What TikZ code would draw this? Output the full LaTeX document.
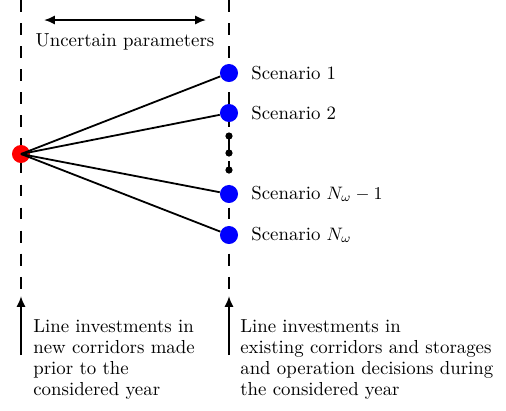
\documentclass[tikz,border=0pt]{standalone}
\usetikzlibrary{arrows.meta}
\begin{document}
\begin{tikzpicture}[x=0.555pt,y=-0.555pt,
  every node/.style={font=\fontsize{10.45}{11.7}\selectfont},
  vline/.style={line width=1pt,dash pattern=on 6.6pt off 6.2pt},
  conn/.style={line width=1pt},
  blue dot/.style={circle,fill=blue,inner sep=0pt,minimum size=10pt},
  red dot/.style={circle,fill=red,inner sep=0pt,minimum size=10pt},
  small dot/.style={circle,fill=black,inner sep=0pt,minimum size=4pt},
  lbl/.style={anchor=west,inner sep=0pt},
  note/.style={anchor=north west,align=left,inner sep=0pt},
  arr/.style={line width=1pt,-{Latex[length=6pt,width=5pt]}}]
\useasboundingbox (0,0) rectangle (506,410);
% dashed timelines
\coordinate (lt) at (21,0);
\coordinate (lb) at (21,290);
\coordinate (rt) at (229,0);
\coordinate (rb) at (229,290);
\draw[vline] (lt) -- (lb);
\draw[vline] (rt) -- (rb);
% uncertain parameters arrow
\coordinate (ua) at (44,20);
\coordinate (ub) at (206,20);
\draw[line width=1pt,{Latex[length=6pt,width=5pt]}-{Latex[length=6pt,width=5pt]}] (ua) -- (ub);
\node (unc) at (125,42) {Uncertain parameters};
% nodes
\node[red dot] (r) at (21,154) {};
\node[blue dot] (s1) at (229,73) {};
\node[blue dot] (s2) at (229,113) {};
\node[blue dot] (s3) at (229,194) {};
\node[blue dot] (s4) at (229,235) {};
\node[small dot] (d1) at (229,136) {};
\node[small dot] (d2) at (229,153) {};
\node[small dot] (d3) at (229,170) {};
\foreach \s in {s1,s2,s3,s4} \draw[conn] (r.center) -- (\s);
% labels
\node[lbl] (l1) at (251,73) {Scenario 1};
\node[lbl] (l2) at (251,113) {Scenario 2};
\node[lbl] (l3) at (251,194) {Scenario $N_\omega-1$};
\node[lbl] (l4) at (251,235) {Scenario $N_\omega$};
% bottom arrows
\coordinate (a1) at (21,355);
\coordinate (a1t) at (21,296);
\coordinate (a2) at (229,355);
\coordinate (a2t) at (229,296);
\draw[arr] (a1) -- (a1t);
\draw[arr] (a2) -- (a2t);
\node[note] (n1) at (33,319) {Line investments in\\new corridors made\\prior to the\\considered year};
\node[note] (n2) at (240,319) {Line investments in\\existing corridors and storages\\and operation decisions during\\the considered year};
\end{tikzpicture}
\end{document}
